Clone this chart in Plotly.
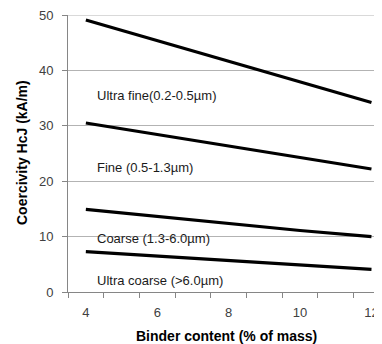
import plotly.graph_objects as go

binder = [4, 6, 8, 10, 12]
ultra_fine = [49.1, 45.4, 41.7, 38.0, 34.2]
fine = [30.5, 28.4, 26.3, 24.2, 22.2]
coarse = [14.9, 13.6, 12.4, 11.1, 10.0]
ultra_coarse = [7.3, 6.5, 5.7, 4.9, 4.1]

series = [ultra_fine, fine, coarse, ultra_coarse]
labels = ["Ultra fine(0.2-0.5µm)", "Fine (0.5-1.3µm)", "Coarse (1.3-6.0µm)", "Ultra coarse (>6.0µm)"]
label_y = [35.5, 22.4, 9.7, 2.15]
x_ticks = [4, 6, 8, 10, 12]
y_ticks = [0, 10, 20, 30, 40, 50]

FONT = "Liberation Sans"
OFF = 8  # page body margin
W, H = 382 - OFF, 344 - OFF
ML, MT = 68 - OFF, 13 - OFF
MB = H - (292 - OFF)
PW, PH = W - ML, H - MT - MB

fig = go.Figure()
for s in series:
    fig.add_trace(go.Scatter(x=binder, y=s, mode="lines",
                             line=dict(color="black", width=3.2), showlegend=False))

for t, y in zip(labels, label_y):
    fig.add_annotation(x=4.25, y=y, text=t, showarrow=False, xanchor="left", yanchor="middle",
                       font=dict(family=FONT, size=13, color="#1a1a1a"))

fig.add_shape(type="line", xref="paper", yref="y", x0=0, x1=1, y0=50, y1=50,
              line=dict(color="#b3b3b3", width=1), layer="below")

fig.add_annotation(xref="paper", yref="paper", x=(226 - 68) / PW, y=(292 - 336) / PH,
                   text="<b>Binder content (% of mass)</b>", showarrow=False,
                   xanchor="center", yanchor="middle",
                   font=dict(family=FONT, size=14, color="black"))
fig.add_annotation(xref="paper", yref="paper", x=(22 - 68) / PW, y=(292 - 152) / PH,
                   text="<b>Coercivity HcJ (kA/m)</b>", showarrow=False, textangle=-90,
                   xanchor="center", yanchor="middle",
                   font=dict(family=FONT, size=14, color="black"))

fig.update_layout(
    width=W, height=H,
    margin=dict(l=ML, r=0, t=MT, b=MB, pad=0),
    paper_bgcolor="white", plot_bgcolor="white",
    xaxis=dict(range=[3.5, 3.5 + PW / 35.7], tickvals=x_ticks, ticktext=[str(v) for v in x_ticks],
               ticks="", showgrid=False, zeroline=False, ticklabeloverflow="allow",
               ticklabelstandoff=8,
               showline=True, linecolor="#868686", linewidth=1,
               tickfont=dict(family=FONT, size=13, color="#404040"),
               minor=dict(tick0=3.5, dtick=1, ticks="outside", ticklen=5,
                          tickcolor="#868686", showgrid=False)),
    yaxis=dict(range=[0, 50], tickvals=y_ticks, ticks="outside", ticklen=5,
               tickcolor="#868686", showgrid=True, gridcolor="#b3b3b3", gridwidth=1,
               zeroline=False, showline=True, linecolor="#868686", linewidth=1,
               ticklabeloverflow="allow", ticklabelstandoff=6,
               tickfont=dict(family=FONT, size=13, color="#404040")),
)
fig.write_html("out.html")
